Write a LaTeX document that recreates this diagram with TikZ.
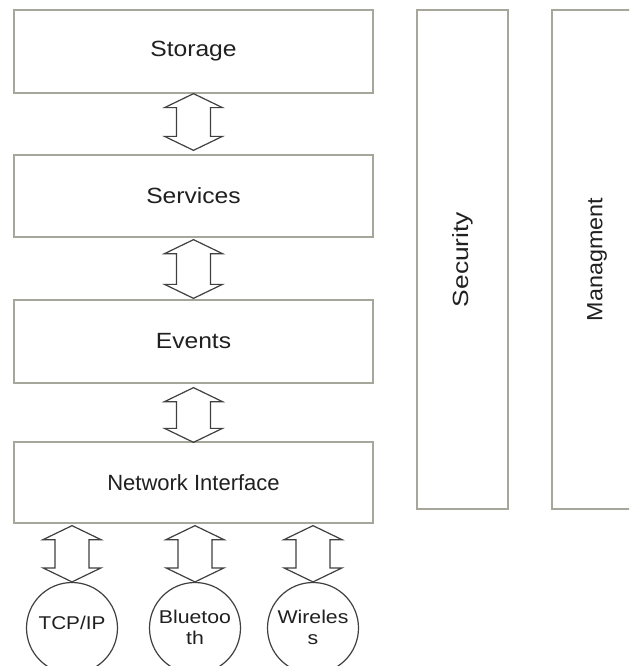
\documentclass[tikz,border=0pt]{standalone}
\usepackage{fontspec}
\setmainfont{Liberation Sans}
\usepackage{graphicx}
\usetikzlibrary{calc}
\definecolor{boxline}{HTML}{A6A69A}
\definecolor{arrline}{HTML}{404040}
\definecolor{txt}{HTML}{202020}
\newcommand\stretchtxt[2][1.12]{\scalebox{#1}[1]{#2}}
\newcommand\dblarrow[2]{%
  \draw[dblarr] let \p1=(#1), \p2=(#2) in
    (\x1,\y1) -- (\x1+29pt,\y1-14pt) -- (\x1+17pt,\y1-14pt) -- (\x1+17pt,\y2+14pt)
    -- (\x1+29pt,\y2+14pt) -- (\x1,\y2) -- (\x1-29pt,\y2+14pt) -- (\x1-17pt,\y2+14pt)
    -- (\x1-17pt,\y1-14pt) -- (\x1-29pt,\y1-14pt) -- cycle;}
\tikzset{
  layer/.style={draw=boxline, line width=1.3pt, fill=white, minimum width=359pt,
    inner sep=0pt, text=txt, font=\fontsize{22}{25}\selectfont},
  side/.style={draw=boxline, line width=1.3pt, fill=white, rotate=90,
    minimum width=499pt, inner sep=0pt, text=txt, font=\fontsize{22}{25}\selectfont},
  proto/.style={circle, draw=arrline, line width=1.2pt, minimum size=91pt, inner sep=0pt},
  prototxt/.style={text=txt, align=center, inner sep=0pt,
    font=\fontsize{18.5}{21}\selectfont},
  dblarr/.style={draw=arrline, line width=1.2pt, line join=miter},
}
\begin{document}
\begin{tikzpicture}[x=1pt, y=-1pt]
\useasboundingbox (0,0) rectangle (629,666);
\fill[white] (0,0) rectangle (629,666);
\clip (0,0) rectangle (629,666);

\node[layer, minimum height=83pt] (storage)  at (193.5,51.5)  {\stretchtxt[1.12]{Storage}};
\node[layer, minimum height=82pt] (services) at (193.5,196)   {\stretchtxt[1.12]{Services}};
\node[layer, minimum height=83pt] (events)   at (193.5,341.5) {\stretchtxt[1.12]{Events}};
\node[layer, minimum height=81pt] (netif)    at (193.5,482.5) {\stretchtxt[1.0]{Network Interface}};

\node[side, minimum height=91pt] (security) at (462.5,259.5) {\stretchtxt[1.2]{Security}};
\node[side, minimum height=90pt] (manage)   at (597,259.5)   {\stretchtxt[1.06]{Managment}};

\node[proto] (tcp)   at (72,628)  {};
\node[proto] (blue)  at (195,628) {};
\node[proto] (wire)  at (313,628) {};
\node[prototxt] (tcpt)  at ($(tcp)+(0,-5)$)  {\stretchtxt[1.12]{TCP/IP}};
\node[prototxt] (bluet) at ($(blue)+(0,-1)$) {\stretchtxt[1.15]{Bluetoo}\\\stretchtxt[1.15]{th}};
\node[prototxt] (wiret) at ($(wire)+(0,-1)$) {\stretchtxt[1.15]{Wireles}\\\stretchtxt[1.15]{s}};

\coordinate (a1t) at ($(storage.south)+(0,0)$);
\coordinate (a1b) at ($(services.north)+(0,-4)$);
\coordinate (a2t) at ($(services.south)+(0,2)$);
\coordinate (a2b) at ($(events.north)+(0,-1)$);
\coordinate (a3t) at ($(events.south)+(0,4)$);
\coordinate (a3b) at ($(netif.north)+(0,1)$);
\dblarrow{a1t}{a1b}
\dblarrow{a2t}{a2b}
\dblarrow{a3t}{a3b}

\coordinate (b1t) at ($(netif.south -| tcp.north)+(0,2)$);
\coordinate (b2t) at ($(netif.south -| blue.north)+(0,2)$);
\coordinate (b3t) at ($(netif.south -| wire.north)+(0,2)$);
\dblarrow{b1t}{tcp.north}
\dblarrow{b2t}{blue.north}
\dblarrow{b3t}{wire.north}
\end{tikzpicture}
\end{document}
